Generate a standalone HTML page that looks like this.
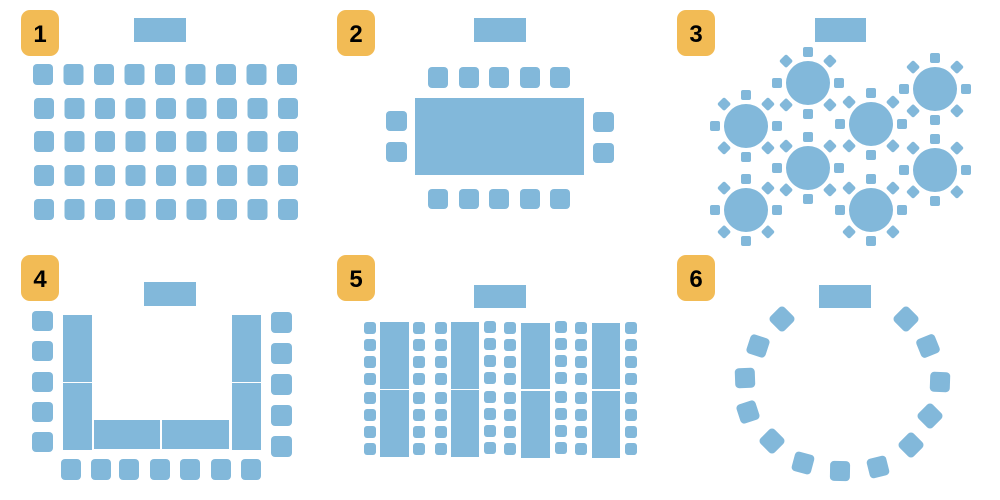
<!DOCTYPE html>
<html><head><meta charset="utf-8"><style>
html,body{margin:0;padding:0;background:#fff;width:1000px;height:500px;overflow:hidden}
svg{display:block}
text{font-family:"Liberation Sans","DejaVu Sans",sans-serif;font-weight:bold;font-size:24px;fill:#000}
</style></head><body>
<svg width="1000" height="500" viewBox="0 0 1000 500" xmlns="http://www.w3.org/2000/svg">
<defs>
<g id="rt">
<circle cx="0" cy="0" r="22"/>
<rect x="-5" y="-36" width="10" height="10" rx="2"/>
<rect x="-5" y="26" width="10" height="10" rx="2"/>
<rect x="-36" y="-5" width="10" height="10" rx="2"/>
<rect x="26" y="-5" width="10" height="10" rx="2"/>
<rect x="-5" y="-5" width="10" height="10" rx="2" transform="rotate(45) translate(0,-31)"/>
<rect x="-5" y="-5" width="10" height="10" rx="2" transform="rotate(135) translate(0,-31)"/>
<rect x="-5" y="-5" width="10" height="10" rx="2" transform="rotate(225) translate(0,-31)"/>
<rect x="-5" y="-5" width="10" height="10" rx="2" transform="rotate(315) translate(0,-31)"/>
</g>
<g id="col5">
<rect x="0" y="322" width="12" height="12" rx="3"/>
<rect x="0" y="339" width="12" height="12" rx="3"/>
<rect x="0" y="356" width="12" height="12" rx="3"/>
<rect x="0" y="373" width="12" height="12" rx="3"/>
<rect x="0" y="392" width="12" height="12" rx="3"/>
<rect x="0" y="409" width="12" height="12" rx="3"/>
<rect x="0" y="426" width="12" height="12" rx="3"/>
<rect x="0" y="443" width="12" height="12" rx="3"/>
</g>
<g id="row1">
<rect x="0" y="0" width="20" height="21" rx="4"/>
<rect x="30.5" y="0" width="20" height="21" rx="4"/>
<rect x="61" y="0" width="20" height="21" rx="4"/>
<rect x="91.5" y="0" width="20" height="21" rx="4"/>
<rect x="122" y="0" width="20" height="21" rx="4"/>
<rect x="152.5" y="0" width="20" height="21" rx="4"/>
<rect x="183" y="0" width="20" height="21" rx="4"/>
<rect x="213.5" y="0" width="20" height="21" rx="4"/>
<rect x="244" y="0" width="20" height="21" rx="4"/>
</g>
</defs>

<!-- badges -->
<g fill="#f2bb55">
<rect x="21" y="10" width="38" height="46" rx="9"/>
<rect x="337" y="10" width="38" height="46" rx="9"/>
<rect x="677" y="10" width="38" height="46" rx="9"/>
<rect x="21" y="255" width="38" height="46" rx="9"/>
<rect x="337" y="255" width="38" height="46" rx="9"/>
<rect x="677" y="255" width="38" height="46" rx="9"/>
</g>
<text x="40" y="42" text-anchor="middle">1</text>
<text x="356" y="42" text-anchor="middle">2</text>
<text x="696" y="42" text-anchor="middle">3</text>
<text x="40" y="287" text-anchor="middle">4</text>
<text x="356" y="287" text-anchor="middle">5</text>
<text x="696" y="287" text-anchor="middle">6</text>

<g fill="#82b8da">
<!-- panel 1 -->
<rect x="134" y="18" width="52" height="24"/>
<use href="#row1" x="33" y="64"/>
<use href="#row1" x="34" y="98"/>
<use href="#row1" x="34" y="131"/>
<use href="#row1" x="34" y="165"/>
<use href="#row1" x="34" y="199"/>

<!-- panel 2 -->
<rect x="474" y="18" width="52" height="24"/>
<rect x="415" y="98" width="169" height="77"/>
<rect x="428" y="67" width="20" height="21" rx="4"/>
<rect x="459" y="67" width="20" height="21" rx="4"/>
<rect x="489" y="67" width="20" height="21" rx="4"/>
<rect x="520" y="67" width="20" height="21" rx="4"/>
<rect x="550" y="67" width="20" height="21" rx="4"/>
<rect x="428" y="189" width="20" height="20" rx="4"/>
<rect x="459" y="189" width="20" height="20" rx="4"/>
<rect x="489" y="189" width="20" height="20" rx="4"/>
<rect x="520" y="189" width="20" height="20" rx="4"/>
<rect x="550" y="189" width="20" height="20" rx="4"/>
<rect x="386" y="111" width="21" height="20" rx="4"/>
<rect x="386" y="142" width="21" height="20" rx="4"/>
<rect x="593" y="112" width="21" height="20" rx="4"/>
<rect x="593" y="143" width="21" height="20" rx="4"/>

<!-- panel 3 -->
<rect x="815" y="18" width="51" height="24"/>
<use href="#rt" x="746" y="126"/>
<use href="#rt" x="808" y="83"/>
<use href="#rt" x="871" y="124"/>
<use href="#rt" x="935" y="89"/>
<use href="#rt" x="808" y="168"/>
<use href="#rt" x="935" y="170"/>
<use href="#rt" x="746" y="210"/>
<use href="#rt" x="871" y="210"/>

<!-- panel 4 -->
<rect x="144" y="282" width="52" height="24"/>
<rect x="63" y="315" width="29" height="67"/>
<rect x="63" y="383" width="29" height="67"/>
<rect x="94" y="420" width="66" height="29"/>
<rect x="162" y="420" width="67" height="29"/>
<rect x="232" y="315" width="29" height="67"/>
<rect x="232" y="383" width="29" height="67"/>
<rect x="32" y="311" width="21" height="20" rx="4"/>
<rect x="32" y="341" width="21" height="20" rx="4"/>
<rect x="32" y="372" width="21" height="20" rx="4"/>
<rect x="32" y="402" width="21" height="20" rx="4"/>
<rect x="32" y="432" width="21" height="20" rx="4"/>
<rect x="271" y="312" width="21" height="21" rx="4"/>
<rect x="271" y="343" width="21" height="21" rx="4"/>
<rect x="271" y="374" width="21" height="21" rx="4"/>
<rect x="271" y="405" width="21" height="21" rx="4"/>
<rect x="271" y="436" width="21" height="21" rx="4"/>
<rect x="61" y="459" width="20" height="21" rx="4"/>
<rect x="91" y="459" width="20" height="21" rx="4"/>
<rect x="119" y="459" width="20" height="21" rx="4"/>
<rect x="150" y="459" width="20" height="21" rx="4"/>
<rect x="180" y="459" width="20" height="21" rx="4"/>
<rect x="211" y="459" width="20" height="21" rx="4"/>
<rect x="241" y="459" width="20" height="21" rx="4"/>

<!-- panel 5 -->
<rect x="474" y="285" width="52" height="23"/>
<rect x="380" y="322" width="29" height="67"/>
<rect x="380" y="390" width="29" height="67"/>
<rect x="451" y="322" width="28" height="67"/>
<rect x="451" y="390" width="28" height="67"/>
<rect x="521" y="323" width="29" height="66"/>
<rect x="521" y="391" width="29" height="67"/>
<rect x="592" y="323" width="28" height="66"/>
<rect x="592" y="391" width="28" height="67"/>
<use href="#col5" x="364" y="0"/>
<use href="#col5" x="413" y="0"/>
<use href="#col5" x="435" y="0"/>
<use href="#col5" x="484" y="-1"/>
<use href="#col5" x="504" y="0"/>
<use href="#col5" x="555" y="-1"/>
<use href="#col5" x="575" y="0"/>
<use href="#col5" x="625" y="0"/>

<!-- panel 6 -->
<rect x="819" y="285" width="52" height="23"/>
<rect x="-10" y="-10" width="20" height="20" rx="4" transform="translate(782,319) rotate(45)"/>
<rect x="-10" y="-10" width="20" height="20" rx="4" transform="translate(758,346) rotate(18)"/>
<rect x="-10" y="-10" width="20" height="20" rx="4" transform="translate(745,378) rotate(-2)"/>
<rect x="-10" y="-10" width="20" height="20" rx="4" transform="translate(748,412) rotate(-18)"/>
<rect x="-10" y="-10" width="20" height="20" rx="4" transform="translate(772,441) rotate(-45)"/>
<rect x="-10" y="-10" width="20" height="20" rx="4" transform="translate(803,463) rotate(15)"/>
<rect x="-10" y="-10" width="20" height="20" rx="4" transform="translate(840,471) rotate(1)"/>
<rect x="-10" y="-10" width="20" height="20" rx="4" transform="translate(878,467) rotate(-14)"/>
<rect x="-10" y="-10" width="20" height="20" rx="4" transform="translate(911,445) rotate(45)"/>
<rect x="-10" y="-10" width="20" height="20" rx="4" transform="translate(930,416) rotate(45)"/>
<rect x="-10" y="-10" width="20" height="20" rx="4" transform="translate(940,382) rotate(2)"/>
<rect x="-10" y="-10" width="20" height="20" rx="4" transform="translate(928,346) rotate(-22)"/>
<rect x="-10" y="-10" width="20" height="20" rx="4" transform="translate(906,319) rotate(45)"/>
</g>
</svg>
</body></html>
